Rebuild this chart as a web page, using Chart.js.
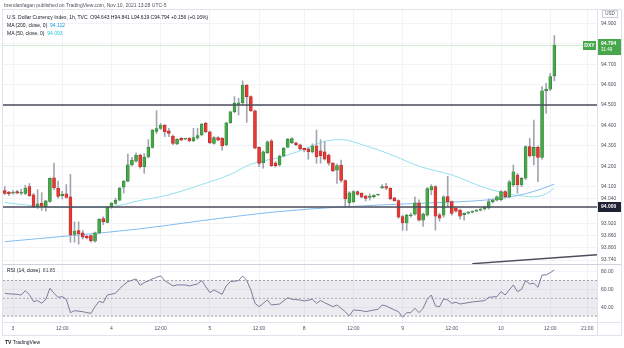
<!DOCTYPE html>
<html>
<head>
<meta charset="utf-8">
<script src="https://cdn.jsdelivr.net/npm/chart.js@4.4.0/dist/chart.umd.min.js"></script>
<style>
  html, body { margin: 0; padding: 0; background: #fff; }
  .wrap { position: relative; width: 624px; height: 348px; font-family: 'Liberation Sans', Arial, sans-serif; color: #131722; }
  canvas { position: absolute; left: 0; top: 0; }
  .txt { position: absolute; white-space: nowrap; font-size: 5px; line-height: 6px; }
</style>
</head>
<body>
<div class="wrap">
  <canvas id="dxy" width="624" height="348"></canvas>
  <div class="txt" style="left:4px;top:2px;color:#50535e">brendanfagan published on TradingView.com, Nov 10, 2021 13:28 UTC-5</div>
  <div class="txt" style="left:7px;top:14px">U.S. Dollar Currency Index, 1h, TVC&nbsp; O94.643 H94.841 L94.619 C94.794 +0.156 (+0.16%)</div>
  <div class="txt" style="left:7px;top:22px">MA (200, close, 0)&nbsp; <span style="color:#2196f3">94.112</span></div>
  <div class="txt" style="left:7px;top:30px">MA (50, close, 0)&nbsp; <span style="color:#26c6da">94.093</span></div>
  <div class="txt" style="left:7px;top:267px">RSI (14, close)&nbsp; <span style="color:#50535e">81.85</span></div>
  <div class="txt" style="left:5px;top:339px;color:#131722"><b>TV</b> TradingView</div>
</div>
<script>
// hourly candles, Nov 2 22:00 .. Nov 10 13:00 (index = bar number)
const opens = [
  94.080, 94.073, 94.068, 94.075, 94.068, 94.067, 94.100, 94.060, 94.000, 94.018,
  94.002, 94.027, 94.143, 94.092, 94.055, 94.065, 94.050, 93.865, 93.885, 93.873,
  93.857, 93.860, 93.832, 93.873, 93.943, 93.925, 94.000, 94.018, 94.033, 94.097,
  94.127, 94.207, 94.225, 94.255, 94.196, 94.245, 94.292, 94.370, 94.385, 94.402,
  94.373, 94.348, 94.309, 94.337, 94.333, 94.337, 94.325, 94.337, 94.353, 94.410,
  94.369, 94.312, 94.340, 94.337, 94.304, 94.413, 94.467, 94.503, 94.511, 94.598,
  94.541, 94.471, 94.292, 94.217, 94.266, 94.324, 94.217, 94.206, 94.250, 94.293,
  94.315, 94.315, 94.305, 94.288, 94.285, 94.270, 94.300, 94.275, 94.270, 94.255,
  94.215, 94.180, 94.206, 94.130, 94.020, 94.026, 94.075, 94.067, 94.054, 94.047,
  94.051, 94.059, 94.095, 94.100, 94.092, 94.045, 94.031, 93.953, 93.922, 93.957,
  93.965, 94.020, 93.935, 93.960, 94.085, 94.100, 93.962, 93.960, 94.051, 94.026,
  93.995, 93.985, 93.962, 93.970, 93.975, 93.980, 93.985, 93.990, 93.995, 94.026,
  94.033, 94.036, 94.075, 94.050, 94.110, 94.157, 94.108, 94.141, 94.296, 94.250,
  94.292, 94.243, 94.570, 94.577, 94.643
];
const highs = [
  94.100, 94.077, 94.080, 94.082, 94.088, 94.107, 94.115, 94.067, 94.085, 94.070,
  94.033, 94.143, 94.215, 94.127, 94.077, 94.110, 94.160, 93.927, 93.927, 93.885,
  93.860, 93.863, 93.877, 93.943, 93.952, 94.002, 94.023, 94.043, 94.097, 94.130,
  94.260, 94.243, 94.265, 94.260, 94.262, 94.330, 94.380, 94.472, 94.410, 94.405,
  94.386, 94.352, 94.335, 94.340, 94.338, 94.340, 94.386, 94.386, 94.410, 94.415,
  94.372, 94.345, 94.345, 94.340, 94.415, 94.470, 94.541, 94.533, 94.618, 94.601,
  94.545, 94.475, 94.295, 94.275, 94.325, 94.330, 94.222, 94.255, 94.292, 94.337,
  94.340, 94.318, 94.308, 94.290, 94.290, 94.310, 94.377, 94.330, 94.320, 94.260,
  94.218, 94.210, 94.230, 94.133, 94.075, 94.080, 94.078, 94.070, 94.058, 94.064,
  94.060, 94.062, 94.110, 94.116, 94.095, 94.048, 94.035, 93.960, 93.965, 93.970,
  94.050, 94.035, 93.970, 94.095, 94.110, 94.105, 93.970, 94.055, 94.150, 94.030,
  94.000, 93.990, 93.972, 93.978, 93.982, 93.988, 93.993, 94.005, 94.040, 94.040,
  94.055, 94.080, 94.080, 94.130, 94.206, 94.165, 94.145, 94.300, 94.337, 94.426,
  94.300, 94.590, 94.606, 94.655, 94.841
];
const lows = [
  94.060, 94.055, 94.063, 94.065, 94.060, 94.060, 94.052, 93.997, 93.993, 93.983,
  93.980, 94.023, 94.085, 94.043, 94.040, 94.043, 93.827, 93.827, 93.818, 93.843,
  93.843, 93.827, 93.827, 93.868, 93.913, 93.922, 93.993, 94.013, 94.030, 94.068,
  94.123, 94.200, 94.220, 94.190, 94.165, 94.240, 94.288, 94.360, 94.380, 94.345,
  94.345, 94.305, 94.305, 94.325, 94.330, 94.320, 94.320, 94.332, 94.350, 94.365,
  94.310, 94.308, 94.325, 94.279, 94.300, 94.410, 94.462, 94.451, 94.500, 94.415,
  94.468, 94.285, 94.198, 94.190, 94.262, 94.198, 94.195, 94.200, 94.245, 94.290,
  94.310, 94.300, 94.280, 94.271, 94.234, 94.265, 94.214, 94.215, 94.230, 94.205,
  94.173, 94.116, 94.120, 94.000, 94.000, 94.020, 94.058, 94.045, 94.030, 94.034,
  94.045, 94.055, 94.090, 94.085, 94.035, 94.028, 93.945, 93.885, 93.885, 93.950,
  93.960, 93.930, 93.905, 93.955, 94.060, 93.887, 93.930, 93.950, 94.000, 93.960,
  93.975, 93.940, 93.935, 93.965, 93.970, 93.976, 93.980, 93.985, 93.990, 94.020,
  94.030, 94.030, 94.045, 94.045, 94.100, 94.067, 94.100, 94.135, 94.245, 94.206,
  94.124, 94.235, 94.459, 94.570, 94.619
];
const closes = [
  94.067, 94.065, 94.070, 94.068, 94.070, 94.093, 94.055, 94.002, 94.015, 94.003,
  94.030, 94.140, 94.093, 94.052, 94.063, 94.047, 93.863, 93.882, 93.868, 93.852,
  93.848, 93.835, 93.873, 93.940, 93.927, 94.000, 94.018, 94.033, 94.093, 94.127,
  94.207, 94.230, 94.255, 94.196, 94.245, 94.292, 94.377, 94.385, 94.402, 94.369,
  94.361, 94.312, 94.332, 94.328, 94.335, 94.324, 94.340, 94.350, 94.407, 94.369,
  94.315, 94.340, 94.328, 94.299, 94.413, 94.467, 94.508, 94.511, 94.598, 94.541,
  94.471, 94.288, 94.214, 94.271, 94.320, 94.201, 94.203, 94.250, 94.288, 94.333,
  94.335, 94.305, 94.285, 94.280, 94.270, 94.300, 94.245, 94.252, 94.235, 94.215,
  94.178, 94.203, 94.130, 94.040, 94.070, 94.075, 94.062, 94.048, 94.042, 94.051,
  94.059, 94.059, 94.100, 94.092, 94.040, 94.031, 93.950, 93.922, 93.960, 93.962,
  94.020, 93.935, 93.965, 94.090, 94.100, 93.955, 93.945, 94.050, 94.026, 93.969,
  93.980, 93.955, 93.970, 93.975, 93.980, 93.985, 93.990, 94.000, 94.026, 94.034,
  94.050, 94.075, 94.051, 94.124, 94.173, 94.108, 94.140, 94.296, 94.250, 94.292,
  94.243, 94.570, 94.577, 94.639, 94.794
];

// moving averages at a few bars
const ma200Bars = [0, 33, 48, 67, 82, 101, 113, 121, 127, 131, 134];
const ma200Vals = [93.830, 93.893, 93.933, 93.978, 94.000, 94.018, 94.028, 94.042, 94.065, 94.090, 94.112];
const ma50Bars = [0, 8, 15, 25, 33, 40, 48, 55, 60, 67, 72, 78, 82, 88, 95, 101, 109, 117, 124, 129, 132, 134];
const ma50Vals = [94.022, 94.004, 93.998, 94.000, 94.032, 94.060, 94.110, 94.160, 94.210, 94.243, 94.275, 94.322,
                  94.330, 94.300, 94.250, 94.200, 94.157, 94.095, 94.060, 94.050, 94.065, 94.093];

// RSI(14)
const rsiBars = [0, 1, 3, 4, 5, 6, 7, 8, 9, 10, 11, 12, 13, 14, 15, 16, 17, 19, 20, 21, 22, 23, 24, 25, 27, 28,
  29, 30, 32, 33, 34, 36, 37, 38, 39, 41, 42, 44, 45, 47, 48, 50, 51, 53, 54, 55, 57, 58, 59, 60, 61, 62, 63, 64,
  65, 67, 69, 70, 72, 73, 75, 76, 77, 78, 80, 81, 83, 84, 85, 87, 88, 90, 91, 92, 93, 95, 96, 97, 98, 99, 100,
  101, 102, 103, 104, 105, 106, 107, 108, 109, 110, 111, 114, 117, 118, 120, 121, 122, 124, 125, 126, 127, 128,
  129, 130, 131, 132, 133, 134];
const rsiVals = [55.6, 55.0, 54.5, 53.7, 58.6, 54.0, 46.3, 47.4, 44.4, 48.9, 61.2, 55.6, 51.1, 51.9, 48.9, 33.9,
  36.1, 35.0, 33.9, 33.1, 40.6, 46.6, 45.1, 53.7, 55.6, 60.9,
  65.0, 68.7, 71.7, 64.6, 67.6, 71.7, 73.6, 75.1, 69.9, 63.9, 65.0, 65.0, 63.9, 66.1, 69.9, 56.4, 59.4, 54.5, 63.9,
  68.7, 69.9, 75.1, 69.9, 59.4, 44.4, 40.6, 44.4, 48.1,
  42.5, 43.6, 50.7, 48.9, 48.1, 47.0, 48.9, 44.4, 47.4, 45.0, 40.6, 42.5, 35.0, 30.1, 36.9, 36.1, 35.0, 36.9, 37.6,
  42.5, 41.4, 36.9, 35.0, 28.7, 33.9, 33.9, 38.8,
  33.9, 38.8, 48.9, 53.7, 41.4, 40.6, 49.3, 48.1, 44.4, 45.5, 43.6, 45.9, 47.4, 51.1, 51.9, 57.5, 53.7, 65.0, 57.5,
  60.1, 69.9, 66.1,
  66.9, 62.4, 76.2, 76.2, 78.8, 81.85];

// drawn levels and trend line
const levels = [94.5, 94.0];
const trendBars = [114, 144.4];
const trendVals = [93.722, 93.766];
const rsiBands = [70, 50, 30];

// axis ticks
const priceTicks = [94.9, 94.8, 94.7, 94.6, 94.5, 94.4, 94.3, 94.2, 94.1, 94.04, 94.0, 93.92, 93.86, 93.8, 93.74];
const rsiTicks = [80, 60, 40];
const timeTickBars = [2, 14, 26, 38, 50, 62, 73, 85, 97, 109, 121, 133, 142];
const timeTickLabels = ['3', '12:00', '4', '12:00', '5', '12:00', '8', '12:00', '9', '12:00', '10', '12:00', '21:00'];

const X_MIN = -0.44, X_MAX = 144.4;
const UP = '#46a84a', UP_EDGE = '#2e7d32', DOWN = '#e53935', DOWN_EDGE = '#b52a26';
const GRID = '#f1f3f7', FRAME = '#e0e3eb', LINE = '#4a4e5c';
const tickFont = { family: "'Liberation Sans', Arial, sans-serif", size: 5 };

const isUp = i => closes[i] >= opens[i];
const pts = (xs, ys) => xs.map((x, k) => ({ x, y: ys[k] }));
const flat = v => [{ x: X_MIN, y: v }, { x: X_MAX, y: v }];

const frame = {
  id: 'frame',
  afterDraw(chart) {
    const { ctx, chartArea: a, scales } = chart;
    const y = scales.y;
    const last = closes.length - 1;
    ctx.save();
    ctx.strokeStyle = FRAME;
    ctx.lineWidth = 1;
    ctx.strokeRect(2.5, 9.5, 619, 326);
    ctx.beginPath();
    ctx.moveTo(a.right + 0.5, 9.5); ctx.lineTo(a.right + 0.5, 335.5);
    ctx.moveTo(2.5, a.bottom + 0.5); ctx.lineTo(621.5, a.bottom + 0.5);
    ctx.stroke();
    ctx.strokeStyle = '#cfd3dc';
    ctx.beginPath();
    ctx.moveTo(2.5, scales.rsi.top + 0.5); ctx.lineTo(621.5, scales.rsi.top + 0.5);
    ctx.stroke();

    // last price line and labels
    const yl = Math.round(y.getPixelForValue(closes[last])) + 0.5;
    ctx.strokeStyle = 'rgba(76,175,80,0.25)';
    ctx.beginPath(); ctx.moveTo(a.left, yl); ctx.lineTo(a.right, yl); ctx.stroke();
    ctx.fillStyle = UP;
    ctx.fillRect(a.right - 14, yl - 4.5, 13, 9);
    ctx.fillRect(a.right + 1, yl - 6.5, 23, 16);
    ctx.fillStyle = '#fff';
    ctx.font = "bold 5px 'Liberation Sans', Arial, sans-serif";
    ctx.textBaseline = 'middle';
    ctx.textAlign = 'center';
    ctx.fillText('DXY', a.right - 7.5, yl);
    ctx.textAlign = 'left';
    ctx.fillText(closes[last].toFixed(3), a.right + 4, yl - 2);
    ctx.font = "4.5px 'Liberation Sans', Arial, sans-serif";
    ctx.fillText('31:49', a.right + 4, yl + 4.5);

    // level label
    const y0 = Math.round(y.getPixelForValue(levels[1]));
    ctx.fillStyle = '#1e2235';
    ctx.fillRect(a.right + 1, y0 - 5, 23, 10);
    ctx.fillStyle = '#fff';
    ctx.font = "bold 5px 'Liberation Sans', Arial, sans-serif";
    ctx.fillText(levels[1].toFixed(3), a.right + 4, y0);

    // currency box
    ctx.strokeStyle = '#c8ccd6';
    ctx.strokeRect(a.right + 5.5, 10.5, 15, 7);
    ctx.fillStyle = '#50535e';
    ctx.font = "4.5px 'Liberation Sans', Arial, sans-serif";
    ctx.textAlign = 'center';
    ctx.fillText('USD', a.right + 13, 14);
    ctx.restore();
  }
};

new Chart(document.getElementById('dxy'), {
  type: 'bar',
  data: {
    datasets: [
      { type: 'line', yAxisID: 'rsi', data: flat(rsiBands[0]), borderColor: '#8a8d96', borderWidth: 0.8,
        borderDash: [2, 2], pointRadius: 0, fill: false, order: 10 },
      { type: 'line', yAxisID: 'rsi', data: flat(rsiBands[2]), borderColor: '#8a8d96', borderWidth: 0.8,
        borderDash: [2, 2], pointRadius: 0, fill: '-1', backgroundColor: 'rgba(120,120,150,0.14)', order: 10 },
      { type: 'line', yAxisID: 'rsi', data: flat(rsiBands[1]), borderColor: '#9a9da6', borderWidth: 0.8,
        borderDash: [2, 2], pointRadius: 0, fill: false, order: 9 },
      { type: 'line', yAxisID: 'rsi', data: pts(rsiBars, rsiVals), borderColor: '#7e7a9a', borderWidth: 1,
        pointRadius: 0, tension: 0, fill: false, order: 8 },
      { type: 'line', yAxisID: 'y', data: pts(ma200Bars, ma200Vals), borderColor: '#80bdf2', borderWidth: 1,
        pointRadius: 0, cubicInterpolationMode: 'monotone', fill: false, order: 7 },
      { type: 'line', yAxisID: 'y', data: pts(ma50Bars, ma50Vals), borderColor: '#92e0ec', borderWidth: 1,
        pointRadius: 0, cubicInterpolationMode: 'monotone', fill: false, order: 7 },
      { type: 'bar', yAxisID: 'y', grouped: false, barThickness: 1, order: 5,
        data: closes.map((c, i) => ({ x: i, y: [lows[i], highs[i]] })),
        backgroundColor: '#a3a6b0' },
      { type: 'bar', yAxisID: 'y', grouped: false, barThickness: 3, minBarLength: 1, order: 4,
        data: closes.map((c, i) => ({ x: i, y: [opens[i], c] })),
        backgroundColor: ctx => isUp(ctx.dataIndex) ? UP : DOWN,
        borderColor: ctx => isUp(ctx.dataIndex) ? UP_EDGE : DOWN_EDGE,
        borderWidth: 0.6, borderSkipped: false },
      ...levels.map(v => ({ type: 'line', yAxisID: 'y', data: flat(v), borderColor: LINE, borderWidth: 1.6,
        pointRadius: 0, fill: false, order: 2 })),
      { type: 'line', yAxisID: 'y', data: pts(trendBars, trendVals), borderColor: LINE, borderWidth: 1.4,
        pointRadius: 0, fill: false, order: 2 }
    ]
  },
  options: {
    responsive: false,
    animation: false,
    events: [],
    layout: { padding: { top: 10, left: 3, right: 0, bottom: 13 } },
    plugins: { legend: { display: false }, tooltip: { enabled: false } },
    scales: {
      x: {
        type: 'linear', min: X_MIN, max: X_MAX, offset: false,
        afterBuildTicks: s => { s.ticks = timeTickBars.map(v => ({ value: v })); },
        afterFit: s => { s.height = 13; },
        ticks: { callback: (v, k) => timeTickLabels[k], autoSkip: false, maxRotation: 0, padding: 4,
          font: tickFont, color: '#50535e' },
        grid: { color: GRID, drawTicks: false, offset: false },
        border: { display: false }
      },
      y: {
        position: 'right', stack: 'panes', stackWeight: 254, min: 93.7206, max: 94.9657,
        afterBuildTicks: s => { s.ticks = priceTicks.map(v => ({ value: v })); },
        afterFit: s => { s.width = 27; },
        ticks: { callback: v => v.toFixed(3), padding: 4, font: tickFont, color: '#50535e' },
        grid: { color: GRID, drawTicks: false },
        border: { display: false }
      },
      rsi: {
        position: 'right', stack: 'panes', stackWeight: 58, min: 23.4, max: 88.5,
        afterBuildTicks: s => { s.ticks = rsiTicks.map(v => ({ value: v })); },
        afterFit: s => { s.width = 27; },
        ticks: { callback: v => v.toFixed(2), padding: 4, font: tickFont, color: '#50535e' },
        grid: { color: GRID, drawTicks: false },
        border: { display: false }
      }
    }
  },
  plugins: [frame]
});
</script>
</body>
</html>
